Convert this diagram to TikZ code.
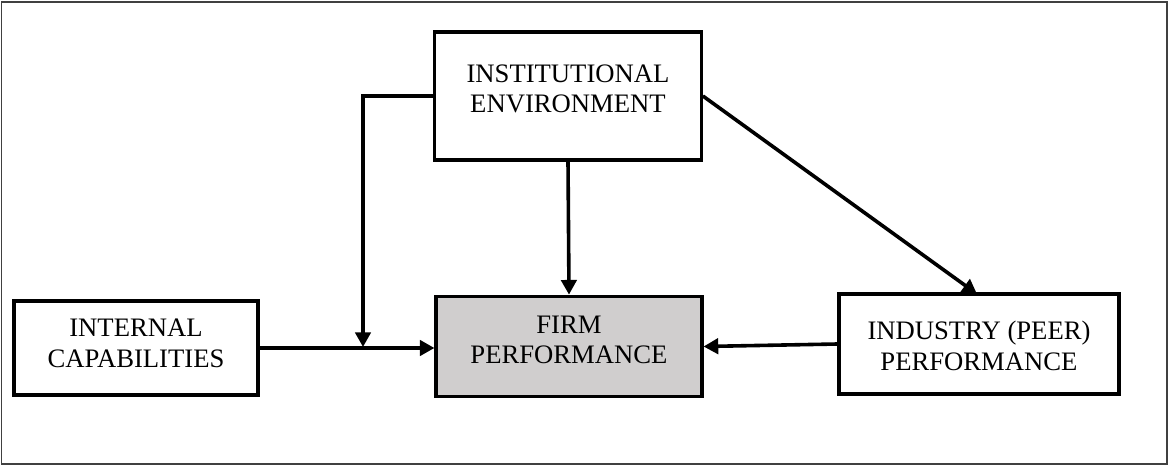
\documentclass[tikz,border=0pt]{standalone}
\usepackage{fontspec}
\setmainfont{Liberation Serif}
\usetikzlibrary{arrows.meta}
\definecolor{boxgray}{HTML}{D0CECE}
\definecolor{framegray}{HTML}{404040}
\begin{document}
\begin{tikzpicture}[x=0.75pt,y=-0.75pt,
  box/.style={draw=black,line width=2.3pt,fill=white,inner sep=0pt},
  txt/.style={align=center,font=\fontsize{20pt}{23pt}\selectfont,inner sep=0pt},
  arr/.style={line width=2.7pt,-{Triangle[length=11pt,width=11.5pt]}}]
  \useasboundingbox (0,0) rectangle (1169,466);
  % outer frame
  \draw[framegray,line width=1.1pt] (1.5,2) rectangle (1167,464);

  % boxes
  \node[box,minimum width=200pt,minimum height=96pt] (inst) at (568,96) {};
  \node[txt] (instT) at (568,89) {INSTITUTIONAL\\ENVIRONMENT};

  \node[box,minimum width=183pt,minimum height=70.5pt] (ic) at (136,348) {};
  \node[txt] (icT) at (136,343) {INTERNAL\\CAPABILITIES};

  \node[box,fill=boxgray,minimum width=199.5pt,minimum height=75.5pt] (firm) at (569,346.5) {};
  \node[txt] (firmT) at (569,340) {FIRM\\PERFORMANCE};

  \node[box,minimum width=210pt,minimum height=75pt] (ind) at (979,344) {};
  \node[txt] (indT) at (979,346) {INDUSTRY (PEER)\\PERFORMANCE};

  % connectors
  \coordinate (join) at (363,347);
  \draw[arr] (inst.west) -| (join);
  \draw[arr] (ic.east) -- (ic.east -| firm.west);
  \draw[arr] (inst.south) -- (firm.north);
  \draw[arr] (inst.east) -- (977,294);
  \draw[arr] (ind.west) -- (firm.east);
\end{tikzpicture}
\end{document}
